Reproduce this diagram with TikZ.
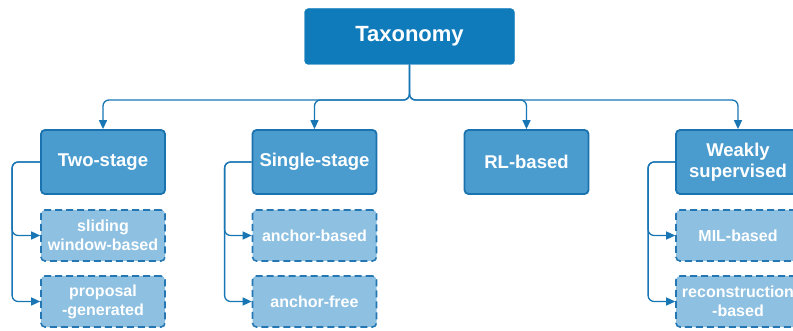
\documentclass[tikz,border=0pt]{standalone}
\usepackage{fontspec}
\setmainfont{Liberation Sans}
\usetikzlibrary{arrows.meta}
\definecolor{topfill}{HTML}{0F7BBA}
\definecolor{midfill}{HTML}{4A9CCF}
\definecolor{midline}{HTML}{1A72AE}
\definecolor{subfill}{HTML}{8DC0E1}
\definecolor{subline}{HTML}{2477B2}
\definecolor{conncol}{HTML}{1976B5}
\begin{document}
\begin{tikzpicture}[x=1pt,y=-1pt,
  topbox/.style={draw=topfill, fill=topfill, rounded corners=4pt, minimum width=210pt, minimum height=56pt, text=white, font=\fontsize{22}{25}\selectfont\bfseries, inner sep=0pt},
  midbox/.style={draw=midline, line width=1.8pt, fill=midfill, rounded corners=4pt, minimum width=124pt, minimum height=64pt, text=white, font=\fontsize{18.5}{21}\selectfont\bfseries, align=center, inner sep=0pt},
  subbox/.style={draw=subline, line width=1.6pt, dash pattern=on 7pt off 4pt, fill=subfill, rounded corners=4pt, minimum width=124pt, minimum height=51pt, text=white, font=\fontsize{16}{19}\selectfont\bfseries, align=center, inner sep=0pt},
  conn/.style={draw=conncol, line width=1.3pt, rounded corners=6pt, -{Triangle[length=9pt,width=8pt]}}
]
\useasboundingbox (0,0) rectangle (793,331);
\node[topbox] (tax) at (409.5,36.5) {Taxonomy};
\node[midbox] (ts) at (103,162) {Two-stage};
\node[midbox] (ss) at (314.5,162) {Single-stage};
\node[midbox] (rl) at (526.5,162) {RL-based};
\node[midbox] (ws) at (738,162) {Weakly\\supervised};
\node[subbox] (ts1) at (103,235.5) {sliding\\window-based};
\node[subbox] (ts2) at (103,301.5) {proposal\\-generated};
\node[subbox] (ss1) at (314.5,235.5) {anchor-based};
\node[subbox] (ss2) at (314.5,301.5) {anchor-free};
\node[subbox] (ws1) at (738,235.5) {MIL-based};
\node[subbox] (ws2) at (738,301.5) {reconstruction\\-based};
\coordinate (j) at (409.5,100);
\draw[conn] (tax.south) -- (j) -| (ts.north);
\draw[conn] (tax.south) -- (j) -| (ss.north);
\draw[conn] (tax.south) -- (j) -| (rl.north);
\draw[conn] (tax.south) -- (j) -| (ws.north);
\draw[conn] (ts.west) -- ++(-28,0) |- (ts1.west);
\draw[conn] (ts.west) -- ++(-28,0) |- (ts2.west);
\draw[conn] (ss.west) -- ++(-27,0) |- (ss1.west);
\draw[conn] (ss.west) -- ++(-27,0) |- (ss2.west);
\draw[conn] (ws.west) -- ++(-27,0) |- (ws1.west);
\draw[conn] (ws.west) -- ++(-27,0) |- (ws2.west);
\end{tikzpicture}
\end{document}
